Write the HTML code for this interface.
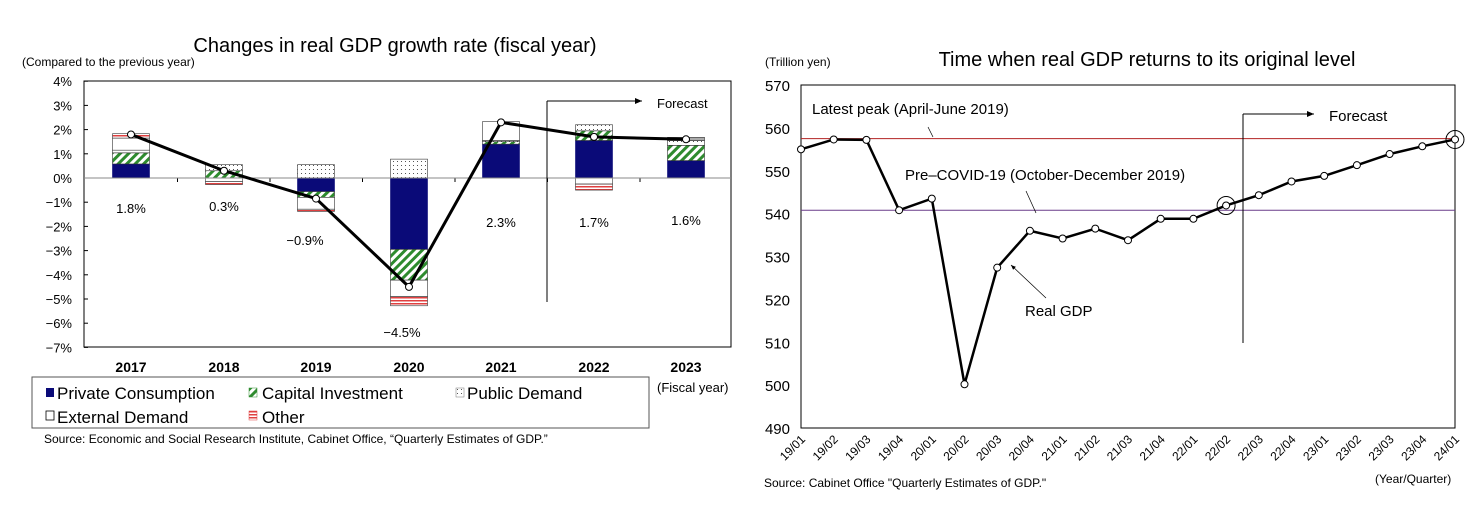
<!DOCTYPE html>
<html><head><meta charset="utf-8"><style>
html,body{margin:0;padding:0;background:#fff;}
svg{display:block;font-family:"Liberation Sans",Arial,sans-serif;}
</style></head><body>
<svg id="s" width="1483" height="520" viewBox="0 0 1483 520" xmlns="http://www.w3.org/2000/svg">
<defs>
<pattern id="hatch" patternUnits="userSpaceOnUse" width="6" height="6" patternTransform="rotate(45)">
<rect width="6" height="6" fill="#fff"/><rect width="3" height="6" fill="#2e8b2e"/></pattern>
<pattern id="dots" patternUnits="userSpaceOnUse" width="4" height="4">
<rect width="4" height="4" fill="#fff"/><rect x="1" y="1" width="1" height="1" fill="#555"/></pattern>
<pattern id="red" patternUnits="userSpaceOnUse" width="4" height="3">
<rect width="4" height="3" fill="#fff"/><rect width="4" height="1.5" fill="#e04040"/></pattern>
<marker id="ar" markerWidth="8" markerHeight="8" refX="7" refY="4" orient="auto"><path d="M0,1 L7,4 L0,7z" fill="#000"/></marker>
</defs>
<text x="395" y="52" font-size="20" text-anchor="middle">Changes in real GDP growth rate (fiscal year)</text>
<text x="22" y="66" font-size="12">(Compared to the previous year)</text>
<rect x="84" y="81" width="647" height="266" fill="none" stroke="#000" stroke-width="1"/>
<g id="L"></g>
<rect x="32" y="377" width="617" height="51" fill="none" stroke="#555"/>
<g font-size="17">
<rect x="46" y="388" width="8" height="9" fill="#0a0a78"/><text x="57" y="399">Private Consumption</text>
<rect x="249" y="388" width="8" height="9" fill="url(#hatch)" stroke="#2e8b2e" stroke-width=".5"/><text x="262" y="399">Capital Investment</text>
<rect x="456" y="388" width="8" height="9" fill="url(#dots)" stroke="#777" stroke-width=".5"/><text x="467" y="399">Public Demand</text>
<rect x="46" y="411" width="8" height="9" fill="#fff" stroke="#000" stroke-width=".8"/><text x="57" y="423">External Demand</text>
<rect x="249" y="411" width="8" height="9" fill="url(#red)" stroke="#e04040" stroke-width=".5"/><text x="262" y="423">Other</text>
</g>
<text x="657" y="392" font-size="13">(Fiscal year)</text>
<text x="44" y="443" font-size="12">Source: Economic and Social Research Institute, Cabinet Office, “Quarterly Estimates of GDP.”</text>

<text x="1147" y="66" font-size="20" text-anchor="middle">Time when real GDP returns to its original level</text>
<text x="765" y="66" font-size="12">(Trillion yen)</text>
<rect x="801" y="85" width="654" height="343" fill="none" stroke="#000"/>
<g id="R"></g>
<text x="1375" y="483" font-size="12">(Year/Quarter)</text>
<text x="764" y="487" font-size="12">Source: Cabinet Office "Quarterly Estimates of GDP."</text>
</svg>
<script>
var NS="http://www.w3.org/2000/svg";
function el(p,t,a,txt){var e=document.createElementNS(NS,t);for(var k in a)e.setAttribute(k,a[k]);if(txt!=null)e.textContent=txt;p.appendChild(e);return e;}
var L=document.getElementById("L");
function y(v){return 178-24.2*v;}
for(var i=0;i<12;i++){var v=4-i;el(L,"text",{x:72,y:y(v)+5,"font-size":13,"text-anchor":"end"},(v<0?"−":"")+Math.abs(v)+"%");
 el(L,"line",{x1:84,x2:88,y1:y(v),y2:y(v),stroke:"#000"});}
var cx=[131,224,316,409,501,594,686];
var yrs=["2017","2018","2019","2020","2021","2022","2023"];
var F={p:"#0a0a78",c:"url(#hatch)",u:"url(#dots)",e:"#fff",o:"url(#red)",g:"#aaa"};
var bars=[
[["p",0,.58],["c",.58,1.04],["u",1.04,1.15],["e",1.15,1.65],["o",1.65,1.83]],
[["c",0,.3],["u",.3,.55],["e",0,-.15],["o",-.15,-.27]],
[["u",0,.55],["p",0,-.56],["c",-.56,-.8],["e",-.8,-1.29],["o",-1.29,-1.38]],
[["u",0,.78],["p",0,-2.95],["c",-2.95,-4.22],["e",-4.22,-4.9],["o",-4.9,-5.28]],
[["p",0,1.4],["c",1.4,1.5],["u",1.5,1.55],["e",1.55,2.33]],
[["p",0,1.55],["c",1.55,1.95],["u",1.95,2.2],["e",0,-.25],["o",-.25,-.5]],
[["p",0,.72],["c",.72,1.35],["u",1.35,1.55],["g",1.55,1.68]]];
bars.forEach(function(b,i){b.forEach(function(s){var a=y(Math.max(s[1],s[2])),h=Math.abs(y(s[1])-y(s[2]));
 el(L,"rect",{x:cx[i]-18.5,y:a,width:37,height:h,fill:F[s[0]],stroke:s[0]=="p"?"#0a0a78":"#333","stroke-width":.6});});
 el(L,"text",{x:cx[i],y:372,"font-size":14,"font-weight":"bold","text-anchor":"middle"},yrs[i]);
 if(i>0)el(L,"line",{x1:(cx[i]+cx[i-1])/2,x2:(cx[i]+cx[i-1])/2,y1:178,y2:182,stroke:"#000"});});
el(L,"line",{x1:84,x2:731,y1:178,y2:178,stroke:"#888"});
var gv=[1.8,.3,-.85,-4.5,2.3,1.7,1.6];
el(L,"polyline",{points:gv.map(function(v,i){return cx[i]+","+y(v)}).join(" "),fill:"none",stroke:"#000","stroke-width":3});
gv.forEach(function(v,i){el(L,"circle",{cx:cx[i],cy:y(v),r:3.5,fill:"#fff",stroke:"#000"});});
var lab=[["1.8%",131,213],["0.3%",224,211],["−0.9%",305,245],["−4.5%",402,337],["2.3%",501,227],["1.7%",594,227],["1.6%",686,225]];
lab.forEach(function(l){el(L,"text",{x:l[1],y:l[2],"font-size":13,"text-anchor":"middle"},l[0]);});
el(L,"line",{x1:547,x2:547,y1:101,y2:302,stroke:"#000"});
el(L,"line",{x1:547,x2:642,y1:101,y2:101,stroke:"#000","marker-end":"url(#ar)"});
el(L,"text",{x:657,y:108,"font-size":13},"Forecast");

var R=document.getElementById("R");
function ry(v){return 85+(570-v)*4.2875;}
for(var v=490;v<=570;v+=10)el(R,"text",{x:790,y:ry(v)+6,"font-size":15,"text-anchor":"end"},v);
var q=["19/01","19/02","19/03","19/04","20/01","20/02","20/03","20/04","21/01","21/02","21/03","21/04","22/01","22/02","22/03","22/04","23/01","23/02","23/03","23/04","24/01"];
var d=[555,557.3,557.2,540.8,543.5,500.2,527.4,536,534.2,536.5,533.8,538.8,538.8,541.9,544.3,547.5,548.8,551.3,553.9,555.7,557.3];
function rx(i){return 801+i*32.7;}
q.forEach(function(s,i){el(R,"text",{x:0,y:0,"font-size":12,"text-anchor":"end",transform:"translate("+(rx(i)+5)+",440) rotate(-45)"},s);});
el(R,"line",{x1:801,x2:1455,y1:ry(557.5),y2:ry(557.5),stroke:"#b22222"});
el(R,"line",{x1:801,x2:1455,y1:ry(540.8),y2:ry(540.8),stroke:"#6a3d8a"});
el(R,"polyline",{points:d.map(function(v,i){return rx(i)+","+ry(v)}).join(" "),fill:"none",stroke:"#000","stroke-width":2.5});
d.forEach(function(v,i){el(R,"circle",{cx:rx(i),cy:ry(v),r:3.5,fill:"#fff",stroke:"#000"});});
el(R,"circle",{cx:rx(13),cy:ry(541.9),r:9,fill:"none",stroke:"#000"});
el(R,"circle",{cx:rx(20),cy:ry(557.3),r:9,fill:"none",stroke:"#000"});
el(R,"line",{x1:1243,x2:1243,y1:114,y2:343,stroke:"#000"});
el(R,"line",{x1:1243,x2:1314,y1:114,y2:114,stroke:"#000","marker-end":"url(#ar)"});
el(R,"text",{x:1329,y:121,"font-size":15},"Forecast");
el(R,"text",{x:812,y:114,"font-size":15},"Latest peak (April-June 2019)");
el(R,"line",{x1:928,x2:933,y1:127,y2:137,stroke:"#000","stroke-width":.7});
el(R,"text",{x:905,y:180,"font-size":15},"Pre–COVID-19 (October-December 2019)");
el(R,"line",{x1:1026,x2:1036,y1:191,y2:213,stroke:"#000","stroke-width":.7});
el(R,"text",{x:1025,y:316,"font-size":15},"Real GDP");
el(R,"line",{x1:1046,x2:1011,y1:298,y2:265,stroke:"#000","stroke-width":.7,"marker-end":"url(#ar)"});
</script>
</body></html>
